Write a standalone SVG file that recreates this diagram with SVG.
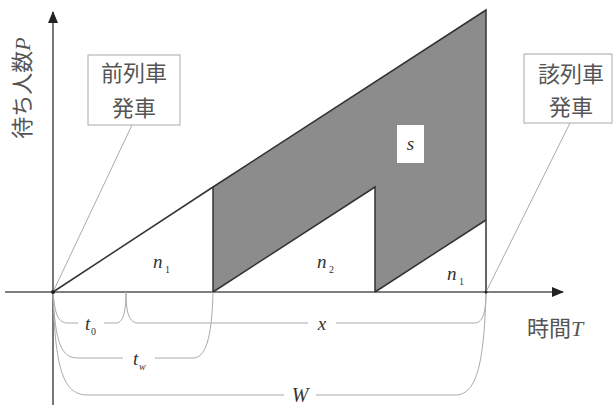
<svg xmlns="http://www.w3.org/2000/svg" width="613" height="408" viewBox="0 0 613 408">
<style>
.axis{stroke:#555;stroke-width:1.6;fill:none}
.edge{stroke:#333;stroke-width:1.5;fill:none}
.thin{stroke:#aaa;stroke-width:1;fill:none}
.box{fill:#fff;stroke:#aaa;stroke-width:1}
.jp{font-family:"Noto Sans CJK JP",sans-serif;fill:#555}
.var{font-family:"Liberation Serif",serif;font-style:italic;fill:#333}
.sub{font-family:"Liberation Serif",serif;fill:#333;font-size:10px}
</style>
<defs>
<marker id="arr" markerWidth="12" markerHeight="10" refX="11" refY="5" orient="auto" markerUnits="userSpaceOnUse">
<path d="M0,0 L12,5 L0,10 Z" fill="#222"/>
</marker>
</defs>
<rect width="613" height="408" fill="#fff"/>
<g id="shaded">
<polygon points="213,187 486,10 486,220 375,292 375,187 213,292" fill="#8c8c8c"/>
</g>
<g id="connectors">
<line class="axis" x1="53" y1="405" x2="53" y2="12" marker-end="url(#arr)"/>
<line class="axis" x1="5" y1="292" x2="563" y2="292" marker-end="url(#arr)"/>
<polyline class="edge" points="53,292 213,187 486,10 486,292"/>
<polyline class="edge" points="213,187 213,292"/>
<polyline class="edge" points="213,292 375,187 375,292"/>
<polyline class="edge" points="375,292 486,220"/>
<line class="thin" x1="132" y1="125" x2="53" y2="292"/>
<line class="thin" x1="570" y1="123" x2="486" y2="292"/>
<path class="thin" d="M53,292 C55,315 58,323 68,323 H78 M104,323 H116 C122,323 126,315 126,292 C126,315 130,323 138,323 H308 M336,323 H474 C482,323 486,315 486,292"/>
<path class="thin" d="M53,292 C55,345 62,358 78,358 H123 M155,358 H193 C205,358 212,340 213,292"/>
<path class="thin" d="M53,292 C55,375 65,395 88,395 H284 M316,395 H455 C475,395 484,370 486,292"/>
<circle cx="53" cy="292" r="2" fill="#222"/>
<circle cx="486" cy="292" r="1.5" fill="#222"/>
</g>
<g id="prev-train">
<rect class="box" x="88" y="55" width="92" height="70"/>
<text class="jp" x="134" y="81" font-size="22" text-anchor="middle">前列車</text>
<text class="jp" x="134" y="116" font-size="22" text-anchor="middle">発車</text>
</g>
<g id="this-train">
<rect class="box" x="524" y="54" width="88" height="69"/>
<text class="jp" x="571" y="82" font-size="22" text-anchor="middle">該列車</text>
<text class="jp" x="571" y="115" font-size="22" text-anchor="middle">発車</text>
</g>
<g id="y-label">
<text class="jp" x="0" y="0" font-size="22" transform="translate(30,88) rotate(-90)" text-anchor="middle">待ち人数<tspan font-family="Liberation Serif" font-style="italic">P</tspan></text>
</g>
<g id="x-label">
<text class="jp" x="527" y="336" font-size="22">時間<tspan font-family="Liberation Serif" font-style="italic">T</tspan></text>
</g>
<g id="s-label">
<rect x="397" y="125" width="27" height="38" fill="#fff"/>
<text class="var" x="410.5" y="150" font-size="19" text-anchor="middle">s</text>
</g>
<g id="n1a"><text class="var" x="153" y="268" font-size="19">n</text><text class="sub" x="165" y="273">1</text></g>
<g id="n2"><text class="var" x="317" y="268" font-size="19">n</text><text class="sub" x="329" y="273">2</text></g>
<g id="n1b"><text class="var" x="447" y="280" font-size="19">n</text><text class="sub" x="459" y="285">1</text></g>
<g id="t0"><text class="var" x="85" y="330" font-size="19">t</text><text class="sub" x="91" y="335" font-size="9">0</text></g>
<g id="tw"><text class="var" x="133" y="365" font-size="19">t</text><text class="sub" x="139" y="370" font-size="9" font-style="italic">w</text></g>
<g id="xlab"><text class="var" x="322" y="330" font-size="19" text-anchor="middle">x</text></g>
<g id="Wlab"><text class="var" x="300" y="402" font-size="20" text-anchor="middle">W</text></g>
</svg>
